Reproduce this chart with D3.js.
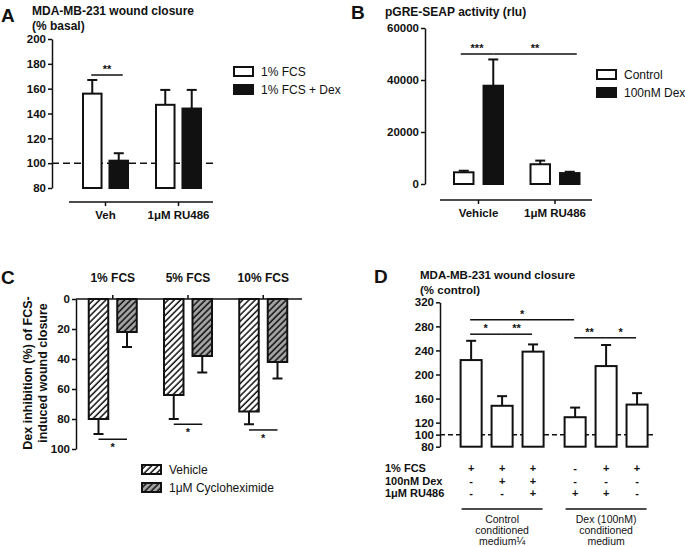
<!DOCTYPE html>
<html>
<head>
<meta charset="utf-8">
<script src="https://cdn.jsdelivr.net/npm/d3@7"></script>
<style>
  body { margin: 0; background: #fff; }
  svg { font-family: "Liberation Sans", Arial, sans-serif; }
  .tick text { font-size: 11.5px; font-weight: bold; fill: #111; }
  .tick line, .domain { stroke: #111; stroke-width: 1.5; }
</style>
</head>
<body>
<div class="fig"></div>
<script>
// ---- panel A data ----
const aGroups = ["Veh", "1μM RU486"];
const aSeries = ["1% FCS", "1% FCS + Dex"];
const aMean = [[156, 102], [147, 144]];
const aSem = [[11, 6], [12, 15]];
const aTicks = [80, 100, 120, 140, 160, 180, 200];

// ---- panel B data ----
const bGroups = ["Vehicle", "1μM RU486"];
const bSeries = ["Control", "100nM Dex"];
const bMean = [[4500, 37800], [7600, 4200]];
const bSem = [[600, 10100], [1400, 500]];
const bTicks = [0, 20000, 40000, 60000];

// ---- panel C data ----
const cGroups = ["1% FCS", "5% FCS", "10% FCS"];
const cSeries = ["Vehicle", "1μM Cycloheximide"];
const cMean = [[80, 22], [64, 38], [75, 42]];
const cSem = [[10, 10], [16, 11], [8.5, 11]];
const cSigLevel = [93.5, 83.5, 87.3];
const cTicks = [0, 20, 40, 60, 80, 100];

// ---- panel D data ----
const dGroups = ["Control", "Dex"];
const dMean = [224, 148, 238, 129, 214, 150];
const dSem = [32, 16, 12, 16, 35, 19];
const dTicks = [80, 100, 120, 160, 200, 240, 280, 320];
const dRowLabels = ["1% FCS", "100nM Dex", "1\u03bcM RU486"];
const dRows = [
  ["+", "+", "+", "-", "+", "+"],
  ["-", "+", "+", "-", "-", "-"],
  ["-", "-", "+", "+", "+", "-"]
];
const dGroupText = [["Control", "conditioned", "medium\u00bc"], ["Dex (100nM)", "conditioned", "medium"]];
// significance: [bar index 1, bar index 2, level, label]
const dSig = [[0, 3, 291, "*"], [0, 1, 267, "*"], [1, 2, 267, "**"], [3, 4, 261, "**"], [4, 5, 261, "*"]];

const svg = d3.select(".fig").append("svg")
  .attr("width", 685).attr("height", 547);

const defs = svg.append("defs");
function hatch(id, bg) {
  const p = defs.append("pattern").attr("id", id)
    .attr("patternUnits", "userSpaceOnUse")
    .attr("width", 4.4).attr("height", 4.4)
    .attr("patternTransform", "rotate(45)");
  p.append("rect").attr("width", 4.4).attr("height", 4.4).attr("fill", bg);
  p.append("line").attr("x1", 1).attr("y1", 0).attr("x2", 1).attr("y2", 4.4)
    .attr("stroke", "#111").attr("stroke-width", 1.5);
}
hatch("hWhite", "#fff");
hatch("hGray", "#a3a3a3");

// helpers
function letter(x, y, t) {
  svg.append("text").attr("x", x).attr("y", y).text(t)
    .attr("font-size", 19).attr("font-weight", "bold").attr("fill", "#111");
}
function title(x, y, lines, size) {
  lines.forEach((l, i) => svg.append("text").attr("x", x).attr("y", y + i * 14.5)
    .text(l).attr("font-size", size).attr("font-weight", "bold").attr("fill", "#111"));
}
function errBar(g, x, y0, y1) {
  g.append("line").attr("x1", x).attr("x2", x).attr("y1", y0).attr("y2", y1)
    .attr("stroke", "#111").attr("stroke-width", 2);
  g.append("line").attr("x1", x - 5).attr("x2", x + 5).attr("y1", y1).attr("y2", y1)
    .attr("stroke", "#111").attr("stroke-width", 2);
}
function sig(g, x1, x2, y, label, below) {
  g.append("line").attr("x1", x1).attr("x2", x2).attr("y1", y).attr("y2", y)
    .attr("stroke", "#111").attr("stroke-width", 1.5);
  g.append("text").attr("x", (x1 + x2) / 2).attr("y", below ? y + 12 : y - 2)
    .attr("text-anchor", "middle").attr("font-size", 11).attr("font-weight", "bold")
    .attr("fill", "#111").text(label);
}
function legend(x, y, items) {
  items.forEach((d, i) => {
    svg.append("rect").attr("x", x).attr("y", y + i * 18).attr("width", 19).attr("height", 9)
      .attr("fill", d.fill).attr("stroke", "#111").attr("stroke-width", 2);
    svg.append("text").attr("x", x + 27).attr("y", y + i * 18 + 9).text(d.name)
      .attr("font-size", 12).attr("fill", "#111");
  });
}
function yAxis(x, scale, ticks) {
  svg.append("g").attr("transform", `translate(${x},0)`)
    .call(d3.axisLeft(scale).tickValues(ticks).tickFormat(d3.format("d"))
      .tickSize(4).tickSizeOuter(0).tickPadding(2));
}
function xBaseline(y, x1, x2, centers, labels) {
  svg.append("line").attr("x1", x1).attr("x2", x2).attr("y1", y).attr("y2", y)
    .attr("stroke", "#111").attr("stroke-width", 1.5);
  centers.forEach((c, i) => {
    svg.append("line").attr("x1", c).attr("x2", c).attr("y1", y).attr("y2", y + 4)
      .attr("stroke", "#111").attr("stroke-width", 1.5);
    svg.append("text").attr("x", c).attr("y", y + 17).attr("text-anchor", "middle")
      .attr("font-size", 11.5).attr("font-weight", "bold").attr("fill", "#111").text(labels[i]);
  });
}

// ================= Panel A =================
{
  const y = d3.scaleLinear().domain([80, 200]).range([188, 39]);
  const gx = d3.scalePoint().domain(aGroups).range([105.5, 178.5]);
  const sx = d3.scaleBand().domain(aSeries).range([-22.5, 22.5]).paddingInner(0.3);
  const fills = ["#fff", "#111"];
  const g = svg.append("g");

  g.append("line").attr("x1", 52).attr("x2", 215).attr("y1", y(100)).attr("y2", y(100))
    .attr("stroke", "#111").attr("stroke-width", 1.5).attr("stroke-dasharray", "7,4");

  aGroups.forEach((grp, gi) => {
    aSeries.forEach((s, si) => {
      const x0 = gx(grp) + sx(s);
      const cx = x0 + sx.bandwidth() / 2;
      errBar(g, cx, y(aMean[gi][si]), y(aMean[gi][si] + aSem[gi][si]));
      g.append("rect").attr("x", x0).attr("width", sx.bandwidth())
        .attr("y", y(aMean[gi][si])).attr("height", y(80) - y(aMean[gi][si]))
        .attr("fill", fills[si]).attr("stroke", "#111").attr("stroke-width", 2);
    });
  });
  const c0 = gx(aGroups[0]) + sx(aSeries[0]) + sx.bandwidth() / 2;
  const c1 = gx(aGroups[0]) + sx(aSeries[1]) + sx.bandwidth() / 2;
  sig(g, c0 - 1, c1 + 4, y(171), "**");

  yAxis(52, y, aTicks);
  xBaseline(202, 69, 213, aGroups.map(d => gx(d)), aGroups);
  letter(1, 22, "A");
  title(32, 15, ["MDA-MB-231 wound closure", "(% basal)"], 12);
  legend(234, 67, aSeries.map((d, i) => ({ name: d, fill: fills[i] })));
}

// ================= Panel B =================
{
  const y = d3.scaleLinear().domain([0, 60000]).range([184, 28]);
  const gx = d3.scalePoint().domain(bGroups).range([478.5, 555]);
  const sx = d3.scaleBand().domain(bSeries).range([-24.5, 24.5]).paddingInner(0.34);
  const fills = ["#fff", "#111"];
  const g = svg.append("g");
  const centers = [];
  bGroups.forEach((grp, gi) => {
    bSeries.forEach((s, si) => {
      const x0 = gx(grp) + sx(s);
      const cx = x0 + sx.bandwidth() / 2;
      centers.push(cx);
      errBar(g, cx, y(bMean[gi][si]), y(bMean[gi][si] + bSem[gi][si]));
      g.append("rect").attr("x", x0).attr("width", sx.bandwidth())
        .attr("y", y(bMean[gi][si])).attr("height", y(0) - y(bMean[gi][si]))
        .attr("fill", fills[si]).attr("stroke", "#111").attr("stroke-width", 2);
    });
  });
  sig(g, centers[0] - 3, centers[1], y(50000), "***");
  sig(g, centers[1], centers[3] + 7, y(50000), "**");

  yAxis(425, y, bTicks);
  xBaseline(200, 440, 592, bGroups.map(d => gx(d)), bGroups);
  letter(351, 19, "B");
  title(385, 16, ["pGRE-SEAP activity (rlu)"], 12);
  legend(597, 70, bSeries.map((d, i) => ({ name: d, fill: fills[i] })));
}

// ================= Panel C =================
{
  const y = d3.scaleLinear().domain([0, 100]).range([299, 449]);
  const gx = d3.scalePoint().domain(cGroups).range([112.75, 263.25]);
  const sx = d3.scaleBand().domain(cSeries).range([-24, 24]).paddingInner(0.316);
  const fills = ["url(#hWhite)", "url(#hGray)"];
  const g = svg.append("g");

  cGroups.forEach((grp, gi) => {
    const cs = [];
    cSeries.forEach((s, si) => {
      const x0 = gx(grp) + sx(s);
      const cx = x0 + sx.bandwidth() / 2;
      cs.push(cx);
      errBar(g, cx, y(cMean[gi][si]), y(cMean[gi][si] + cSem[gi][si]));
      g.append("rect").attr("x", x0).attr("width", sx.bandwidth())
        .attr("y", y(0)).attr("height", y(cMean[gi][si]) - y(0))
        .attr("fill", fills[si]).attr("stroke", "#111").attr("stroke-width", 2);
    });
    sig(g, cs[0], cs[1], y(cSigLevel[gi]), "*", true);
    svg.append("text").attr("x", gx(grp)).attr("y", 282).attr("text-anchor", "middle")
      .attr("font-size", 12).attr("font-weight", "bold").attr("fill", "#111").text(grp);
    svg.append("line").attr("x1", gx(grp)).attr("x2", gx(grp)).attr("y1", y(0)).attr("y2", y(0) - 4)
      .attr("stroke", "#111").attr("stroke-width", 1.5);
  });
  svg.append("line").attr("x1", 76).attr("x2", 302).attr("y1", y(0)).attr("y2", y(0))
    .attr("stroke", "#111").attr("stroke-width", 1.5);

  yAxis(76, y, cTicks);
  letter(1, 284, "C");
  const yl = svg.append("g").attr("transform", "translate(32,373) rotate(-90)");
  yl.append("text").attr("text-anchor", "middle").attr("y", 0)
    .attr("font-size", 12.5).attr("font-weight", "bold").attr("fill", "#111").text("Dex inhibition (%) of FCS-");
  yl.append("text").attr("text-anchor", "middle").attr("y", 15)
    .attr("font-size", 12.5).attr("font-weight", "bold").attr("fill", "#111").text("induced wound closure");
  legend(142, 465, cSeries.map((d, i) => ({ name: d, fill: fills[i] })));
}

// ================= Panel D =================
{
  const y = d3.scaleLinear().domain([80, 320]).range([446.7, 302.3]);
  const gx = d3.scalePoint().domain(dGroups).range([502.1, 606.1]);
  const sx = d3.scaleBand().domain([0, 1, 2]).range([-41.5, 41.5]).paddingInner(0.32);
  const g = svg.append("g");
  const centers = dMean.map((v, i) => gx(dGroups[Math.floor(i / 3)]) + sx(i % 3) + sx.bandwidth() / 2);

  g.append("line").attr("x1", 440).attr("x2", 656).attr("y1", y(100)).attr("y2", y(100))
    .attr("stroke", "#111").attr("stroke-width", 1.5).attr("stroke-dasharray", "5,3");

  dMean.forEach((v, i) => {
    const cx = centers[i];
    errBar(g, cx, y(v), y(v + dSem[i]));
    g.append("rect").attr("x", cx - sx.bandwidth() / 2).attr("width", sx.bandwidth())
      .attr("y", y(v)).attr("height", y(80) - y(v))
      .attr("fill", "#fff").attr("stroke", "#111").attr("stroke-width", 2);
  });
  dSig.forEach(s => sig(g, centers[s[0]] - 1, centers[s[1]] - 1, y(s[2]), s[3]));

  yAxis(440, y, dTicks);
  letter(374, 283, "D");
  title(420, 279, ["MDA-MB-231 wound closure", "(% control)"], 11.5);

  dRowLabels.forEach((l, r) => {
    svg.append("text").attr("x", 385).attr("y", 472 + r * 12.5).text(l)
      .attr("font-size", 11).attr("font-weight", "bold").attr("fill", "#111");
    dRows[r].forEach((s, i) => svg.append("text").attr("x", centers[i]).attr("y", 472 + r * 12.5)
      .attr("text-anchor", "middle").attr("font-size", 11).attr("font-weight", "bold")
      .attr("fill", "#111").text(s));
  });
  dGroups.forEach((grp, gi) => {
    const c = gx(grp);
    svg.append("line").attr("x1", c - 40.5).attr("x2", c + 40.5).attr("y1", 509).attr("y2", 509)
      .attr("stroke", "#111").attr("stroke-width", 1.5);
    dGroupText[gi].forEach((t, k) => svg.append("text").attr("x", c).attr("y", 523 + k * 11)
      .attr("text-anchor", "middle").attr("font-size", 10.5).attr("fill", "#111").text(t));
  });
}
</script>
</body>
</html>
